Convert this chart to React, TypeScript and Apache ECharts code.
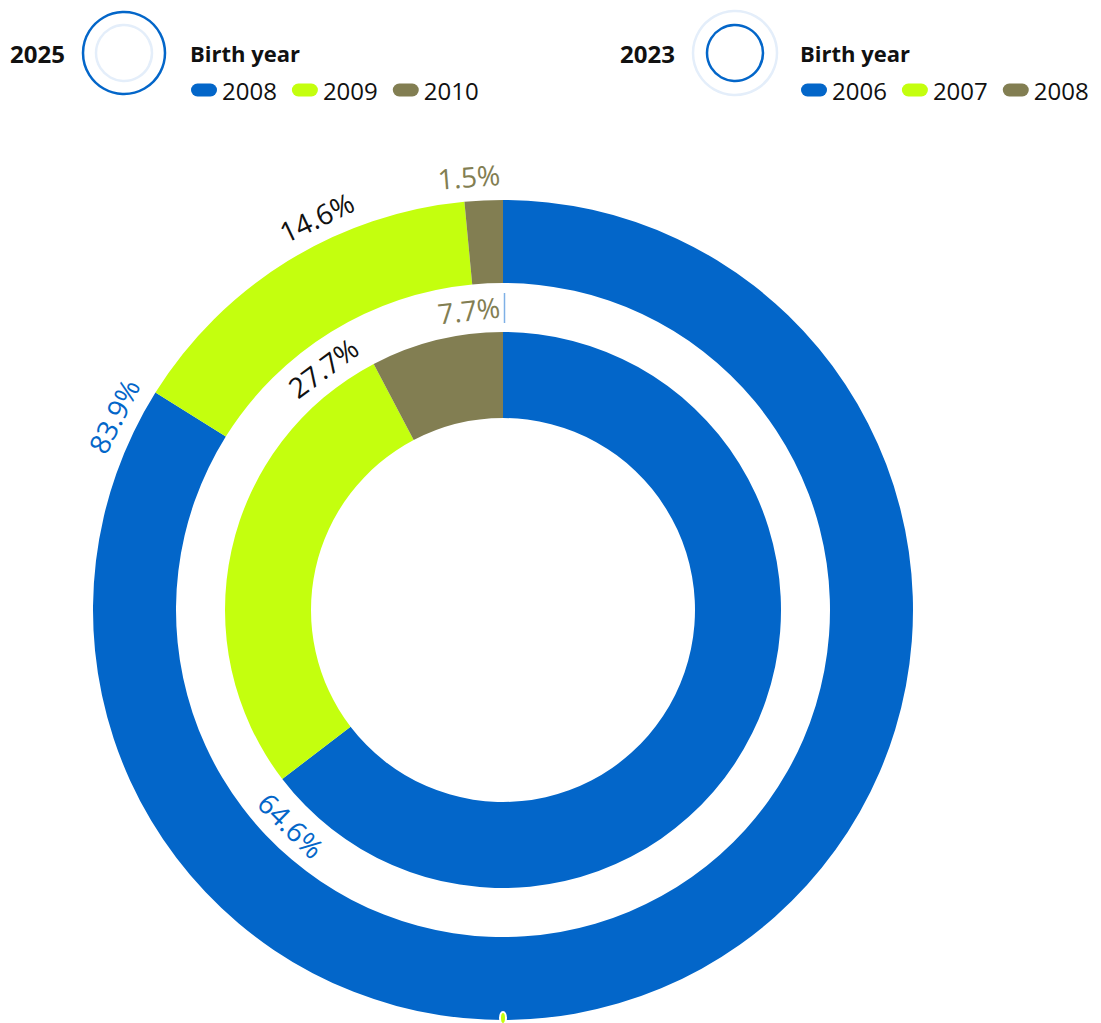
import React, { useEffect, useRef } from "react";
import * as echarts from "echarts";

// ---- data ----
const outerYear = "2025";
const innerYear = "2023";
const legendTitle = "Birth year";
const outerCategories = ["2008", "2009", "2010"];
const outerValues = [83.9, 14.6, 1.5];
const innerCategories = ["2006", "2007", "2008"];
const innerValues = [64.6, 27.7, 7.7];

// ---- styles ----
const colors = ["#0366c9", "#c4ff0e", "#827e52"];
const labelColors = ["#0366c9", "#111111", "#827e52"];
const FONT = "'Open Sans', sans-serif";
const LABEL_SIZE = 28;
const CX = 503;
const CY = 610;
const OUTER_R: [number, number] = [327, 410];
const INNER_R: [number, number] = [192, 278];
const OUTER_LABEL_R = 435;
const INNER_LABEL_R = 302;
const PILL = "path://M6.5,0 H19.5 A6.5,6.5 0 0 1 19.5,13 H6.5 A6.5,6.5 0 0 1 6.5,0 Z";

const fmt = (v: number) => `${v.toFixed(1)}%`;

let measureCtx: CanvasRenderingContext2D | null = null;
function textWidth(t: string) {
  if (!measureCtx) {
    const c = document.createElement("canvas");
    measureCtx = c.getContext("2d");
  }
  if (!measureCtx) return t.length * LABEL_SIZE * 0.55;
  measureCtx.font = `400 ${LABEL_SIZE}px ${FONT}`;
  return measureCtx.measureText(t).width;
}

// place each label flush with the clockwise end of its slice, keeping a minimum gap to the next label
function labelAngles(values: number[], r: number) {
  const total = values.reduce((a, b) => a + b, 0);
  let acc = 0;
  const ends = values.map((v) => ((acc += v) / total) * 360);
  const toDeg = 180 / Math.PI;
  const padDeg = (3 / r) * toDeg;
  const gapDeg = (88 / r) * toDeg;
  const mids: number[] = new Array(values.length);
  let nextStart = Infinity;
  for (let i = values.length - 1; i >= 0; i--) {
    const span = (textWidth(fmt(values[i])) / r) * toDeg;
    const end = Math.min(ends[i] - padDeg, nextStart - gapDeg);
    mids[i] = end - span / 2;
    nextStart = end - span;
  }
  return mids;
}

function makeLayout(values: number[], r: number) {
  const mids = labelAngles(values, r);
  return (params: any) => {
    const a = mids[params.dataIndex];
    const rad = (a * Math.PI) / 180;
    let rot = -a;
    if (a > 90 && a < 270) rot += 180;
    while (rot > 180) rot -= 360;
    while (rot < -180) rot += 360;
    return {
      x: CX + r * Math.sin(rad),
      y: CY - r * Math.cos(rad),
      rotate: rot,
      align: "center",
      verticalAlign: "middle",
    };
  };
}

function pieData(cats: string[], vals: number[]) {
  return cats.map((c, i) => ({
    name: c,
    value: vals[i],
    itemStyle: { color: colors[i] },
    label: { color: labelColors[i] },
  }));
}

function legendData(cats: string[]) {
  return cats.map((c, i) => ({ name: c, icon: PILL, itemStyle: { color: colors[i] } }));
}

export default function App() {
  const ref = useRef<HTMLDivElement>(null);
  useEffect(() => {
    document.body.style.margin = "0";
    if (!ref.current) return;
    const chart = echarts.init(ref.current, null, { renderer: "svg" });
    const seriesBase = {
      type: "pie" as const,
      center: [CX, CY],
      startAngle: 90,
      clockwise: true,
      avoidLabelOverlap: false,
      silent: true,
      labelLine: { show: false },
      itemStyle: { borderWidth: 0 },
      emphasis: { disabled: true },
    };
    const legendBase = {
      orient: "horizontal" as const,
      itemWidth: 26,
      itemHeight: 13,
      itemGap: 15,
      selectedMode: false,
      padding: 0,
      textStyle: { fontFamily: FONT, fontSize: 24, color: "#111111" },
    };
    const headText = (x: number, text: string, size: number) => ({
      type: "text",
      x,
      y: 53,
      style: {
        text,
        fontFamily: FONT,
        fontSize: size,
        fontWeight: 700,
        fill: "#111111",
        textVerticalAlign: "middle",
        verticalAlign: "middle",
      },
    });
    chart.setOption({
      animation: false,
      legend: [
        { ...legendBase, left: 191, top: 78, data: legendData(outerCategories) },
        { ...legendBase, left: 801, top: 78, data: legendData(innerCategories) },
      ],
      graphic: [
        headText(10, outerYear, 24),
        headText(190, legendTitle, 22),
        headText(620, innerYear, 24),
        headText(800, legendTitle, 22),
        { type: "circle", shape: { cx: 124, cy: 53, r: 41 }, style: { fill: "none", stroke: "#0366c9", lineWidth: 2.5 } },
        { type: "circle", shape: { cx: 124, cy: 53, r: 28 }, style: { fill: "none", stroke: "#e4eefa", lineWidth: 2.5 } },
        { type: "circle", shape: { cx: 735, cy: 53, r: 42 }, style: { fill: "none", stroke: "#e4eefa", lineWidth: 2.5 } },
        { type: "circle", shape: { cx: 735, cy: 53, r: 28 }, style: { fill: "none", stroke: "#0366c9", lineWidth: 2.5 } },
        { type: "line", shape: { x1: CX + 1.5, y1: CY - 317, x2: CX + 1.5, y2: CY - 287 }, style: { stroke: "#7fb0e6", lineWidth: 1.5 } },
        { type: "ellipse", z: 10, shape: { cx: CX, cy: CY + 408, rx: 3, ry: 6 }, style: { fill: "#c4ff0e", stroke: "#ffffff", lineWidth: 2 } },
      ],
      series: [
        {
          ...seriesBase,
          name: outerYear,
          radius: OUTER_R,
          data: pieData(outerCategories, outerValues),
          label: {
            show: true,
            position: "inside",
            formatter: (p: any) => fmt(p.value),
            fontFamily: FONT,
            fontSize: LABEL_SIZE,
            fontWeight: 400,
          },
          labelLayout: makeLayout(outerValues, OUTER_LABEL_R),
        },
        {
          ...seriesBase,
          name: innerYear,
          radius: INNER_R,
          data: pieData(innerCategories, innerValues),
          label: {
            show: true,
            position: "inside",
            formatter: (p: any) => fmt(p.value),
            fontFamily: FONT,
            fontSize: LABEL_SIZE,
            fontWeight: 400,
          },
          labelLayout: makeLayout(innerValues, INNER_LABEL_R),
        },
      ],
    });
    return () => chart.dispose();
  }, []);
  return <div ref={ref} style={{ width: 1101, height: 1023 }} />;
}
